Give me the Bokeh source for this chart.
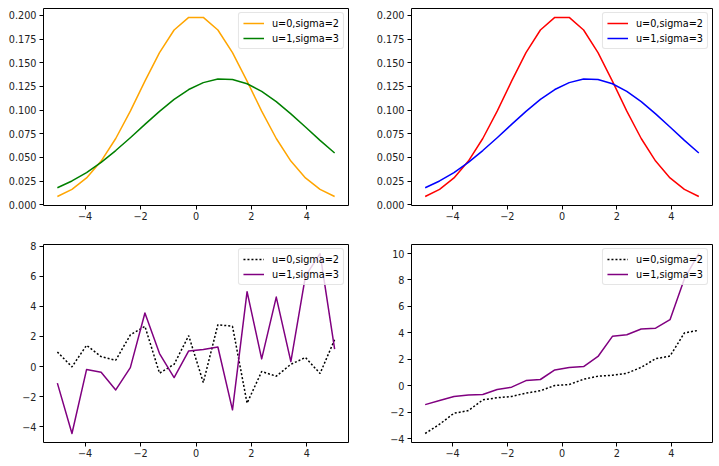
from bokeh.plotting import figure
from bokeh.models import Range1d, FixedTicker
from bokeh.layouts import gridplot
from bokeh.embed import file_html
from bokeh.resources import INLINE

# ---------------- data ----------------
x = [-5.0, -4.4737, -3.9474, -3.4211, -2.8947, -2.3684, -1.8421, -1.3158, -0.7895, -0.2632,
     0.2632, 0.7895, 1.3158, 1.8421, 2.3684, 2.8947, 3.4211, 3.9474, 4.4737, 5.0]

labels = ["u=0,sigma=2", "u=1,sigma=3"]

pdf_a = [0.0088, 0.0163, 0.0284, 0.0462, 0.0700, 0.0989, 0.1305, 0.1606, 0.1845, 0.1978,
         0.1978, 0.1845, 0.1606, 0.1305, 0.0989, 0.0700, 0.0462, 0.0284, 0.0163, 0.0088]
pdf_b = [0.0180, 0.0252, 0.0341, 0.0449, 0.0573, 0.0708, 0.0849, 0.0987, 0.1113, 0.1217,
         0.1290, 0.1327, 0.1322, 0.1278, 0.1198, 0.1089, 0.0960, 0.0821, 0.0680, 0.0547]

sample_a = [0.97, -0.02, 1.41, 0.66, 0.42, 2.1, 2.67, -0.44, 0.15, 2.05,
            -1.06, 2.78, 2.67, -2.43, -0.33, -0.64, 0.15, 0.6, -0.46, 1.79]
sample_b = [-1.1, -4.44, -0.2, -0.38, -1.55, -0.07, 3.55, 0.86, -0.73, 1.04,
            1.13, 1.3, -2.87, 4.97, 0.51, 4.61, 0.33, 6.0, 7.5, 1.15]

sorted_a = [-3.6, -2.9, -2.07, -1.87, -1.06, -0.9, -0.8, -0.55, -0.37, 0.03,
            0.1, 0.5, 0.73, 0.8, 0.95, 1.4, 2.05, 2.25, 4.0, 4.2]
sorted_b = [-1.42, -1.1, -0.8, -0.7, -0.65, -0.28, -0.1, 0.4, 0.48, 1.2,
            1.38, 1.46, 2.22, 3.74, 3.86, 4.3, 4.36, 5.0, 8.1, 10.0]

x_ticks = [-4, -2, 0, 2, 4]
x_tick_labels = ["\u22124", "\u22122", "0", "2", "4"]
top_y_ticks = [0.0, 0.025, 0.05, 0.075, 0.1, 0.125, 0.15, 0.175, 0.2]
top_y_tick_labels = ["0.000", "0.025", "0.050", "0.075", "0.100", "0.125", "0.150", "0.175", "0.200"]
bl_y_ticks = [-4, -2, 0, 2, 4, 6, 8]
bl_y_tick_labels = ["\u22124", "\u22122", "0", "2", "4", "6", "8"]
br_y_ticks = [-4, -2, 0, 2, 4, 6, 8, 10]
br_y_tick_labels = ["\u22124", "\u22122", "0", "2", "4", "6", "8", "10"]

FONT = "DejaVu Sans"
FS = "9.7px"
TXT = "#222222"


def make(width, height, ylim, yticks, ylabels, left, right, top, bottom):
    p = figure(width=width, height=height, x_range=Range1d(-5.5, 5.5),
               y_range=Range1d(*ylim), output_backend="svg", toolbar_location=None,
               min_border_left=left, min_border_right=right,
               min_border_top=top, min_border_bottom=bottom)
    p.grid.visible = False
    p.outline_line_color = "black"
    p.outline_line_width = 1
    p.outline_line_alpha = 1
    p.background_fill_color = "white"
    p.border_fill_color = "white"
    for ax in (p.xaxis[0], p.yaxis[0]):
        ax.axis_line_color = None
        ax.minor_tick_line_color = None
        ax.major_tick_in = 0
        ax.major_tick_out = 4
        ax.major_tick_line_color = "black"
        ax.major_label_text_font = FONT
        ax.major_label_text_font_size = FS
        ax.major_label_text_color = TXT
    p.xaxis.ticker = FixedTicker(ticks=x_ticks)
    p.xaxis.major_label_overrides = dict(zip(x_ticks, x_tick_labels))
    p.xaxis.major_label_standoff = 2
    p.yaxis.ticker = FixedTicker(ticks=yticks)
    p.yaxis.major_label_overrides = dict(zip(yticks, ylabels))
    p.yaxis.major_label_standoff = 3
    return p


def style_legend(p):
    lg = p.legend[0]
    lg.location = "top_right"
    lg.margin = 4
    lg.padding = 4
    lg.spacing = 3
    lg.glyph_width = 21
    lg.glyph_height = 12
    lg.label_height = 12
    lg.label_standoff = 8
    lg.label_text_font = FONT
    lg.label_text_font_size = FS
    lg.label_text_color = "black"
    lg.background_fill_color = "white"
    lg.background_fill_alpha = 0.8
    lg.border_line_color = "#cccccc"
    lg.border_line_width = 1
    if "border_radius" in type(lg).properties():
        lg.border_radius = 3


LW = 1.5
TOP_H = 225      # 8 + 197 + 20
BOT_H = 239      # 19 + 198 + 22
LEFT_W = 373     # 43 + 305 + 25
RIGHT_W = 346    # 35 + 304 + 7

p1 = make(LEFT_W, TOP_H, (-0.00068, 0.2072), top_y_ticks, top_y_tick_labels, 43, 25, 8, 20)
p1.line(x, pdf_a, color="#ffa500", line_width=LW, line_join="round", legend_label=labels[0])
p1.line(x, pdf_b, color="#008000", line_width=LW, line_join="round", legend_label=labels[1])
style_legend(p1)

p2 = make(RIGHT_W, TOP_H, (-0.00068, 0.2072), top_y_ticks, top_y_tick_labels, 35, 7, 8, 20)
p2.line(x, pdf_a, color="#ff0000", line_width=LW, line_join="round", legend_label=labels[0])
p2.line(x, pdf_b, color="#0000ff", line_width=LW, line_join="round", legend_label=labels[1])
style_legend(p2)

p3 = make(LEFT_W, BOT_H, (-5.04, 8.1), bl_y_ticks, bl_y_tick_labels, 43, 25, 19, 22)
p3.line(x, sample_a, color="black", line_width=LW, line_dash="2 2", legend_label=labels[0])
p3.line(x, sample_b, color="#800080", line_width=LW, line_join="round", legend_label=labels[1])
style_legend(p3)

p4 = make(RIGHT_W, BOT_H, (-4.28, 10.68), br_y_ticks, br_y_tick_labels, 35, 7, 19, 22)
p4.line(x, sorted_a, color="black", line_width=LW, line_dash="2 2", legend_label=labels[0])
p4.line(x, sorted_b, color="#800080", line_width=LW, line_join="round", legend_label=labels[1])
style_legend(p4)

grid = gridplot([[p1, p2], [p3, p4]], toolbar_location=None)

open("out.html", "w").write(file_html(grid, INLINE))
